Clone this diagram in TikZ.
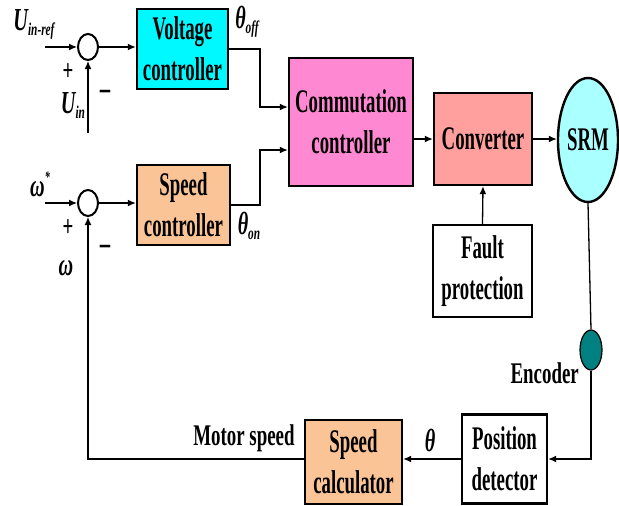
\documentclass[tikz,border=0pt]{standalone}
\usepackage{fontspec}
\usetikzlibrary{arrows.meta,%
                shapes.geometric}
\newfontfamily\boxfont{Liberation Serif}[FakeStretch=0.57]
\newfontfamily\lblfont{Liberation Serif}[FakeStretch=0.63]
\newcommand{\lowsub}[1]{\raisebox{-5pt}{\fontsize{18}{18}\selectfont #1}}
\definecolor{voltcyan}{RGB}{0,248,255}
\definecolor{speedpeach}{RGB}{250,196,150}
\definecolor{commpink}{RGB}{255,136,210}
\definecolor{convsalmon}{RGB}{255,160,158}
\definecolor{srmcyan}{RGB}{170,255,255}
\definecolor{enccolor}{RGB}{0,128,128}

\begin{document}
\begin{tikzpicture}[x=1pt, y=-1pt]
  \tikzstyle{every node} = [inner sep = 0pt]
  \tikzstyle{block} = [draw, rectangle, line width = 2.4pt,
                       align = center,
                       font = \boxfont\bfseries\fontsize{33}{41}\selectfont]
  \tikzstyle{junction} = [draw, ellipse, line width = 2pt,
                          minimum width = 20pt, minimum height = 26pt]
  \tikzstyle{signal} = [line width = 1.3pt, -{Latex[length=8pt, width=7pt]}]
  \tikzstyle{wire} = [line width = 1.3pt]
  \tikzstyle{plaintext} = [font = \lblfont\bfseries\fontsize{30}{36}\selectfont]
  \tikzstyle{symtext} = [font = \lblfont\bfseries\itshape\fontsize{32}{36}\selectfont]
\useasboundingbox (0,0) rectangle (619,506);

% blocks
\node[block, fill = voltcyan, minimum width = 91pt, minimum height = 80pt]
  (volt) at (182.5,49) {Voltage\\controller};
\node[block, fill = speedpeach, minimum width = 93pt, minimum height = 80pt]
  (spd) at (183.5,205) {Speed\\controller};
\node[block, fill = commpink, minimum width = 124pt, minimum height = 128pt]
  (comm) at (351,122) {Commutation\\controller};
\node[block, fill = convsalmon, minimum width = 98pt, minimum height = 92pt]
  (conv) at (483,139) {Converter};
\node[block, fill = white, minimum width = 99pt, minimum height = 92pt]
  (fault) at (482.5,271) {Fault\\protection};
\node[block, ellipse, fill = srmcyan, minimum width = 60pt, minimum height = 124pt]
  (srm) at (588,140) {SRM};
\node[draw, ellipse, line width = 1.2pt, fill = enccolor,
      minimum width = 22pt, minimum height = 40pt] (enc) at (591,350) {};
\node[block, fill = white, minimum width = 85pt, minimum height = 89pt]
  (pos) at (504.5,459) {Position\\detector};
\node[block, fill = speedpeach, minimum width = 97pt, minimum height = 84pt]
  (spcalc) at (353.5,462) {Speed\\calculator};

% summing junctions
\node[junction] (sumU) at (88,47) {};
\node[junction] (sumW) at (88,203) {};
\coordinate (uref) at (45,47);
\coordinate (uin) at (88,133);
\coordinate (wref) at (45,203);
\coordinate (vbend) at (260,107);
\coordinate (sbend) at (260,150);

% signals
\draw[signal] (uref) -- (sumU.west);
\draw[signal] (uin) -- (sumU.south);
\draw[signal] (sumU.east) -- (volt.west |- sumU.east);
\draw[signal] (wref) -- (sumW.west);
\draw[signal] (sumW.east) -- (spd.west |- sumW.east);
\draw[signal] (volt.east) -| (vbend) -- (vbend -| comm.west);
\draw[signal] (spd.east) -| (sbend) -- (sbend -| comm.west);
\draw[signal] (comm.east |- conv.west) -- (conv.west);
\draw[signal] (conv.east) -- (srm.west |- conv.east);
\draw[signal] (fault.north) -- (conv.south);
\draw[wire] (srm.south) -- (enc.north);
\draw[signal] (enc.south) |- (pos.east);
\draw[signal] (pos.west) -- (pos.west -| spcalc.east);
\draw[signal] (spcalc.west |- pos.west) -| (sumW.south);

% labels
\node[symtext] (lUref) at (34,24) {U\lowsub{in-ref}};
\node[symtext] (lUin) at (73,106) {U\lowsub{in}};
\node[symtext] (lWref) at (40,184) {ω\raisebox{14pt}{\fontsize{16}{16}\selectfont *}};
\node[symtext] (lW) at (66,268) {ω};
\node[plaintext] (pU) at (68,72) {+};
\node[plaintext] (pW) at (68,228) {+};
\node[plaintext, font = \lblfont\bfseries\fontsize{36}{36}\selectfont] (mU) at (105,97) {−};
\node[plaintext, font = \lblfont\bfseries\fontsize{36}{36}\selectfont] (mW) at (105,252) {−};
\node[symtext] (lToff) at (247,22) {θ\lowsub{off}};
\node[symtext] (lTon) at (249,226) {θ\lowsub{on}};
\node[symtext] (lT) at (430,440) {θ};
\node[plaintext, anchor = east] (lEnc) at (579,373) {Encoder};
\node[plaintext] (lMspd) at (244,438) {Motor speed};

\end{tikzpicture}
\end{document}
